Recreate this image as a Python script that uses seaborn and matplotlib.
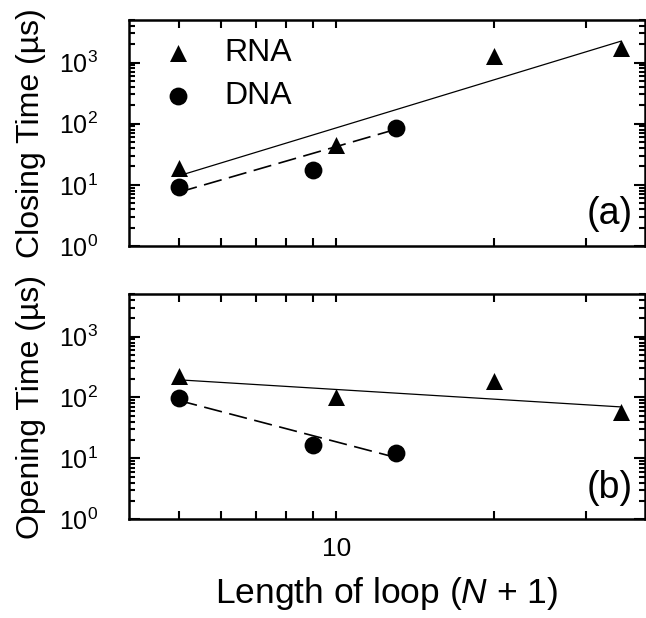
import numpy as np
import pandas as pd
import matplotlib
matplotlib.use("Agg")
import matplotlib.pyplot as plt
import seaborn as sns
from matplotlib.ticker import FixedLocator, NullFormatter, FixedFormatter, LogLocator

# ---- data ----
rna_len = [5, 10, 20, 35]
dna_len = [5, 9, 13]
rna_closing = [18.5, 44, 1260, 1700]
dna_closing = [9.3, 17.4, 84]
rna_opening = [225, 100, 185, 58]
dna_opening = [97, 16.6, 12]

# fitted power-law lines (endpoints)
rna_fit_len = [5, 35]
dna_fit_len = [5, 13]
rna_closing_fit = [14.1, 2230]
dna_closing_fit = [7.6, 81]
rna_opening_fit = [195, 70]
dna_opening_fit = [89, 10.3]

y_major = [1, 10, 100, 1000]
y_major_labels = [r"$10^{0}$", r"$10^{1}$", r"$10^{2}$", r"$10^{3}$"]
x_major = [10]
x_major_labels = ["10"]
x_minor = [5, 6, 7, 8, 9, 20, 30]

sns.set_theme(style="ticks")
plt.rcParams["font.family"] = ["Liberation Sans", "DejaVu Sans"]
plt.rcParams["mathtext.fontset"] = "custom"
plt.rcParams["mathtext.rm"] = "Liberation Sans"
plt.rcParams["mathtext.it"] = "Liberation Sans:italic"
plt.rcParams["mathtext.bf"] = "Liberation Sans:bold"
plt.rcParams["text.color"] = "black"
plt.rcParams["axes.labelcolor"] = "black"
plt.rcParams["xtick.color"] = "black"
plt.rcParams["ytick.color"] = "black"

fig = plt.figure(figsize=(6.46, 6.18), dpi=100)
ax_a = fig.add_axes([0.199, 0.602, 0.800, 0.366])
ax_b = fig.add_axes([0.199, 0.160, 0.800, 0.364])

panels = [
    (ax_a, rna_closing, dna_closing, rna_closing_fit, dna_closing_fit,
     "Closing Time (µs)", "(a)"),
    (ax_b, rna_opening, dna_opening, rna_opening_fit, dna_opening_fit,
     "Opening Time (µs)", "(b)"),
]

for ax, rna_y, dna_y, rna_fit, dna_fit, ylab, tag in panels:
    ax.set_xscale("log")
    ax.set_yscale("log")
    sns.lineplot(x=rna_fit_len, y=rna_fit, ax=ax, color="black", lw=0.9,
                 zorder=2)
    sns.lineplot(x=dna_fit_len, y=dna_fit, ax=ax, color="black", lw=1.2,
                 zorder=2)
    ax.lines[-1].set_linestyle((0, (11, 4.5)))
    sns.scatterplot(x=rna_len, y=rna_y, ax=ax, marker="^", s=150,
                    color="black", edgecolor="black", linewidth=0,
                    label="RNA", zorder=3)
    sns.scatterplot(x=dna_len, y=dna_y, ax=ax, marker="o", s=165,
                    color="black", edgecolor="black", linewidth=0,
                    label="DNA", zorder=3)
    ax.set_xlim(4, 39)
    ax.set_ylim(1, 5000)

    ax.xaxis.set_major_locator(FixedLocator(x_major))
    ax.xaxis.set_major_formatter(FixedFormatter(x_major_labels))
    ax.xaxis.set_minor_locator(FixedLocator(x_minor))
    ax.xaxis.set_minor_formatter(NullFormatter())
    ax.yaxis.set_major_locator(FixedLocator(y_major))
    ax.yaxis.set_major_formatter(FixedFormatter(y_major_labels))
    ax.yaxis.set_minor_locator(LogLocator(base=10, subs=np.arange(2, 10)))
    ax.yaxis.set_minor_formatter(NullFormatter())

    ax.tick_params(which="both", direction="in", top=True, right=True,
                   width=1.5, color="black")
    ax.tick_params(axis="x", which="both", length=6)
    ax.tick_params(axis="y", which="major", length=8, labelsize=18, pad=22)
    ax.tick_params(axis="y", which="minor", length=4)
    ax.tick_params(axis="x", which="major", labelsize=19, pad=13)
    for sp in ax.spines.values():
        sp.set_linewidth(1.8)
        sp.set_color("black")

    ax.set_ylabel(ylab, fontsize=23)
    ax.yaxis.set_label_coords(-0.16, 0.5)
    ax.text(0.975, 0.06, tag, transform=ax.transAxes, ha="right",
            va="bottom", fontsize=27)

ax_a.set_xlabel("")
ax_a.tick_params(axis="x", labelbottom=False)
ax_b.get_legend().remove()
leg = ax_a.legend(loc="upper left", frameon=False, fontsize=23,
                  handletextpad=0.45, labelspacing=0.4, borderaxespad=0.0,
                  markerscale=1.0, bbox_to_anchor=(0.01, 0.975))

ax_b.set_xlabel(r"Length of loop ($\mathit{N}$ + 1)", fontsize=25.5, labelpad=10)

fig.savefig("out.png", dpi=100)
